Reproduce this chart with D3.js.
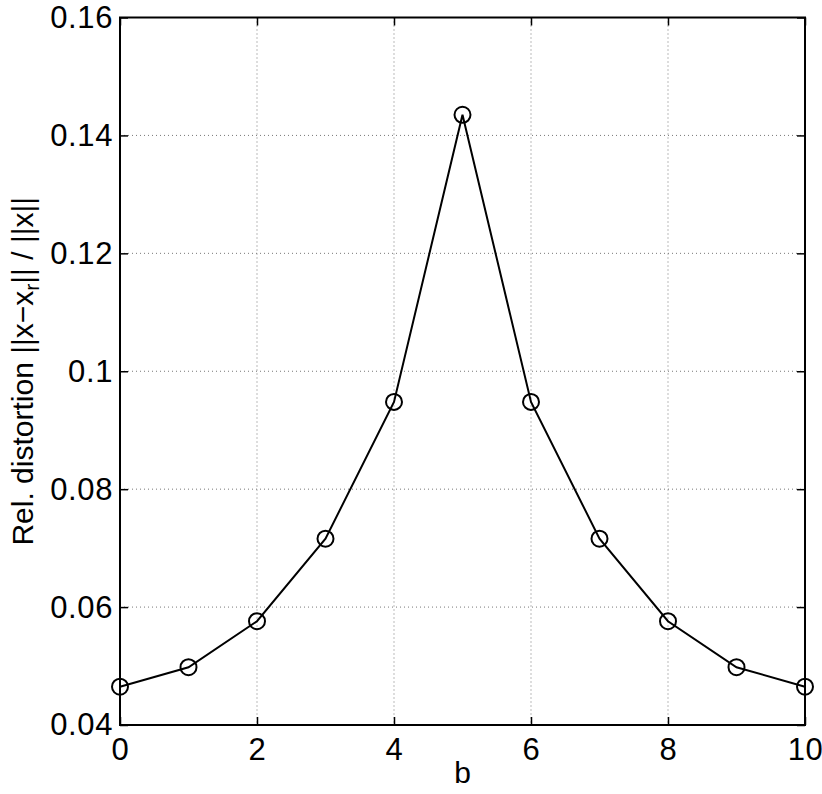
<!DOCTYPE html>
<html>
<head>
<meta charset="utf-8">
<script src="https://cdn.jsdelivr.net/npm/d3@7"></script>
<style>
  body { margin: 0; background: #fff; }
  text { font-family: "Liberation Sans", Arial, sans-serif; fill: #000; }
</style>
</head>
<body>
<div id="chart"></div>
<script>
// Data
var bValues = [0, 1, 2, 3, 4, 5, 6, 7, 8, 9, 10];
var distortion = [0.0465, 0.0498, 0.0576, 0.0716, 0.0948, 0.1435, 0.0948, 0.0716, 0.0576, 0.0498, 0.0465];
var xTicks = [0, 2, 4, 6, 8, 10];
var yTicks = [0.04, 0.06, 0.08, 0.1, 0.12, 0.14, 0.16];

var width = 822, height = 794;
var margin = { top: 17.5, right: 17, bottom: 69, left: 120 };
var plotW = width - margin.left - margin.right;
var plotH = height - margin.top - margin.bottom;

var svg = d3.select("#chart").append("svg")
    .attr("width", width)
    .attr("height", height);

var g = svg.append("g")
    .attr("transform", "translate(" + margin.left + "," + margin.top + ")");

var x = d3.scaleLinear().domain([0, 10]).range([0, plotW]);
var y = d3.scaleLinear().domain([0.04, 0.16]).range([plotH, 0]);

// Dotted grid lines
g.selectAll(".gx").data(xTicks.slice(1, -1)).enter().append("line")
    .attr("x1", function (d) { return x(d); })
    .attr("x2", function (d) { return x(d); })
    .attr("y1", 0).attr("y2", plotH)
    .attr("stroke", "#777").attr("stroke-width", 1)
    .attr("stroke-dasharray", "1,3");

g.selectAll(".gy").data(yTicks.slice(1, -1)).enter().append("line")
    .attr("y1", function (d) { return y(d); })
    .attr("y2", function (d) { return y(d); })
    .attr("x1", 0).attr("x2", plotW)
    .attr("stroke", "#777").attr("stroke-width", 1)
    .attr("stroke-dasharray", "1,3");

// Axes with inward ticks
var tickLen = 8;
var fmtY = function (d) { return d === 0.1 ? "0.1" : d3.format(".2f")(d); };

var xAxis = g.append("g")
    .attr("transform", "translate(0," + plotH + ")")
    .call(d3.axisBottom(x).tickValues(xTicks).tickSizeInner(-tickLen).tickSizeOuter(0).tickPadding(14));
var yAxis = g.append("g")
    .call(d3.axisLeft(y).tickValues(yTicks).tickFormat(fmtY).tickSizeInner(-tickLen).tickSizeOuter(0).tickPadding(7));
var xTop = g.append("g")
    .call(d3.axisTop(x).tickValues(xTicks).tickSizeInner(-tickLen).tickSizeOuter(0).tickFormat(""));
var yRight = g.append("g")
    .attr("transform", "translate(" + plotW + ",0)")
    .call(d3.axisRight(y).tickValues(yTicks).tickSizeInner(-tickLen).tickSizeOuter(0).tickFormat(""));

[xAxis, yAxis, xTop, yRight].forEach(function (a) {
    a.select(".domain").remove();
    a.selectAll("line").attr("stroke", "#000").attr("stroke-width", 1.5);
    a.selectAll("text").style("font-size", "31px").style("letter-spacing", "0.6px")
        .style("font-family", "Liberation Sans, Arial, sans-serif").attr("fill", "#000");
});
xAxis.selectAll("text").attr("dy", "0.68em");

// Box
g.append("rect")
    .attr("x", 0).attr("y", 0)
    .attr("width", plotW).attr("height", plotH)
    .attr("fill", "none").attr("stroke", "#000").attr("stroke-width", 2);

// Line and circle markers
var line = d3.line()
    .x(function (d, i) { return x(bValues[i]); })
    .y(function (d) { return y(d); });

g.append("path")
    .datum(distortion)
    .attr("d", line)
    .attr("fill", "none")
    .attr("stroke", "#000")
    .attr("stroke-width", 2);

g.selectAll(".pt").data(distortion).enter().append("circle")
    .attr("cx", function (d, i) { return x(bValues[i]); })
    .attr("cy", function (d) { return y(d); })
    .attr("r", 8)
    .attr("fill", "none")
    .attr("stroke", "#000")
    .attr("stroke-width", 2);

// Axis labels
svg.append("text")
    .attr("x", margin.left + plotW / 2)
    .attr("y", 783)
    .attr("text-anchor", "middle")
    .style("font-size", "30px")
    .text("b");

var yl = svg.append("text")
    .attr("transform", "translate(33," + (margin.top + plotH / 2) + ") rotate(-90)")
    .attr("text-anchor", "middle")
    .style("font-size", "30px");
yl.append("tspan").text("Rel. distortion ||x\u2212x");
yl.append("tspan").attr("baseline-shift", "-30%").style("font-size", "21px").text("r");
yl.append("tspan").text("|| / ||x||");
</script>
</body>
</html>
